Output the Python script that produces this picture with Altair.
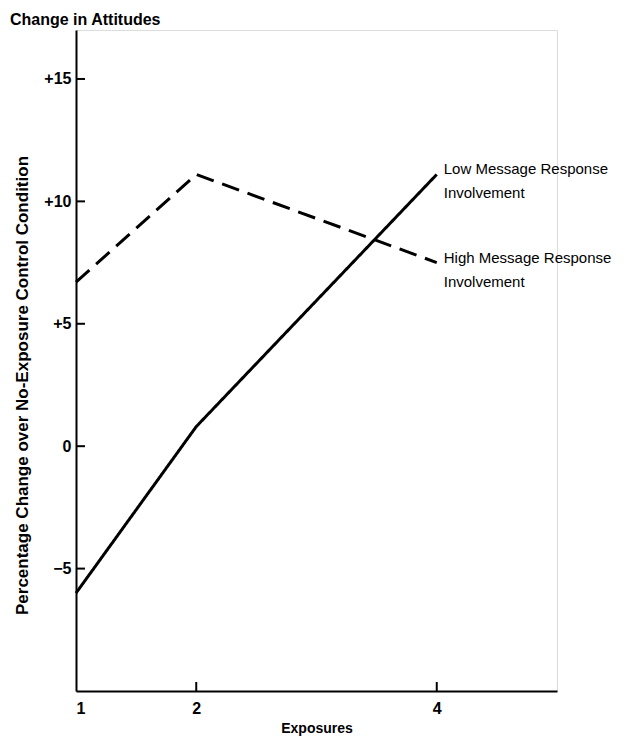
import altair as alt
import pandas as pd

exposures = [1, 2, 4]
low_values = [-6.0, 0.8, 11.1]
high_values = [6.7, 11.1, 7.5]
series_names = ["Low Message Response Involvement", "High Message Response Involvement"]
label_lines = [["Low Message Response", "Involvement"], ["High Message Response", "Involvement"]]
y_ticks = [-5, 0, 5, 10, 15]
x_ticks = [1, 2, 4]
x_inner_ticks = [2, 4]

rows = []
for name, vals in zip(series_names, [low_values, high_values]):
    for x, v in zip(exposures, vals):
        rows.append({"series": name, "x": x, "y": v})
df = pd.DataFrame(rows)

lab_df = pd.DataFrame({
    "series": series_names,
    "x": [exposures[-1], exposures[-1]],
    "y": [low_values[-1], high_values[-1]],
    "text": label_lines,
})

W, H = 481, 661
FONT = "Liberation Sans"

xs = alt.Scale(domain=[1, 5], nice=False, zero=False)
ys = alt.Scale(domain=[-10, 17], nice=False, zero=False)

lines = alt.Chart(df).mark_line(color="black", strokeWidth=3).encode(
    x=alt.X("x:Q", scale=xs, axis=alt.Axis(
        values=x_ticks, format="d", tickSize=0, labelPadding=9, title="Exposures",
        titlePadding=5, labelFontSize=16, labelFontWeight="bold",
        titleFontSize=14, titleFontWeight="bold", domainColor="black",
        domainWidth=2, labelColor="black", titleColor="black", grid=False,
        labelFont=FONT, titleFont=FONT)),
    y=alt.Y("y:Q", scale=ys, axis=alt.Axis(
        values=y_ticks, tickSize=0, labelPadding=5,
        labelExpr="datum.value > 0 ? '+' + datum.label : datum.label",
        title="Percentage Change over No-Exposure Control Condition",
        titlePadding=12, titleY=355, labelFontSize=16, labelFontWeight="bold",
        titleFontSize=17, titleFontWeight="bold", domainColor="black",
        domainWidth=2, labelColor="black", titleColor="black", grid=False,
        labelFont=FONT, titleFont=FONT)),
    strokeDash=alt.StrokeDash("series:N", scale=alt.Scale(
        domain=series_names, range=[[1, 0], [18, 9]]), legend=None),
    detail="series:N",
)

labels = alt.Chart(lab_df).mark_text(
    align="left", baseline="middle", dx=7, dy=-5, fontSize=15,
    font=FONT, lineHeight=24, color="black"
).encode(x=alt.X("x:Q", scale=xs), y=alt.Y("y:Q", scale=ys), text="text")

ytick_df = pd.DataFrame({"v": y_ticks})
yticks = alt.Chart(ytick_df).mark_rule(color="black", strokeWidth=2).encode(
    y=alt.Y("v:Q", scale=ys), x=alt.value(0), x2=alt.value(9))

xtick_df = pd.DataFrame({"v": x_inner_ticks})
xticks = alt.Chart(xtick_df).mark_rule(color="black", strokeWidth=2).encode(
    x=alt.X("v:Q", scale=xs), y=alt.value(H), y2=alt.value(H - 9))

chart = alt.layer(lines, yticks, xticks, labels).properties(
    width=W, height=H,
    title=alt.TitleParams("Change in Attitudes", anchor="start", frame="group",
                          dx=-66, offset=2, fontSize=16, fontWeight="bold",
                          font=FONT, color="black"),
    autosize=alt.AutoSizeParams(type="none"),
    padding={"left": 68, "top": 22, "right": 62, "bottom": 46},
).configure_view(stroke=None).configure(background="white")

chart.save("out.html", embed_options={"renderer": "svg", "actions": False})
